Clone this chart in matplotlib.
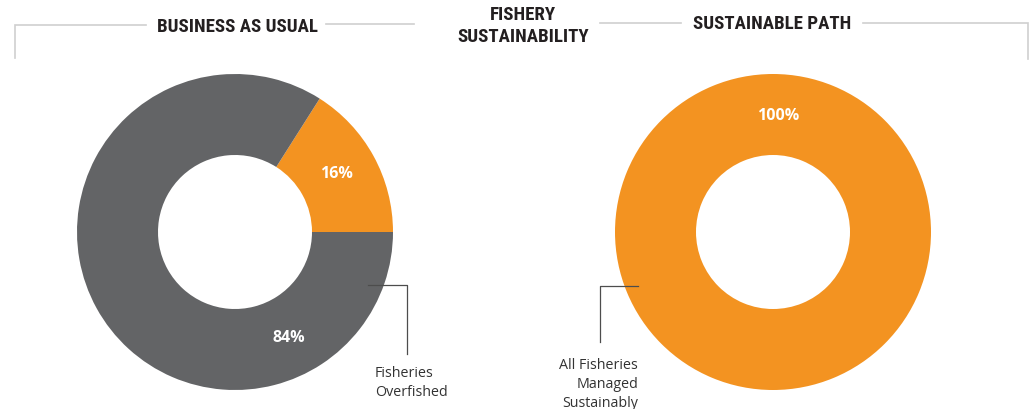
import matplotlib
matplotlib.use("Agg")
import matplotlib.pyplot as plt
import numpy as np

# ---- data ----
panel_titles = ["BUSINESS AS USUAL", "SUSTAINABLE PATH"]
center_title = "FISHERY\nSUSTAINABILITY"
bau_labels = ["Sustainable", "Fisheries Overfished"]
bau_values = [16, 84]
sus_labels = ["All Fisheries Managed Sustainably"]
sus_values = [100]
bau_pct_text = ["16%", "84%"]
sus_pct_text = ["100%"]

ORANGE = "#F39321"
GRAY = "#636466"
LINE = "#cfcfcf"

W, H = 1029, 410
fig = plt.figure(figsize=(W / 100, H / 100), dpi=100)
ax = fig.add_axes([0, 0, 1, 1])

def Y(y):
    return H - y

head_font = ["Roboto Condensed", "Roboto", "DejaVu Sans"]
body_font = ["Open Sans", "DejaVu Sans"]

R_OUT, R_IN = 158, 77
c1 = (235, Y(233))
c2 = (773, Y(233))

ax.pie(bau_values, colors=[ORANGE, GRAY], startangle=0, counterclock=True,
       radius=R_OUT, center=c1, wedgeprops=dict(width=R_OUT - R_IN, linewidth=0),
       frame=True)
ax.pie(sus_values, colors=[ORANGE], startangle=90, counterclock=True,
       radius=R_OUT, center=c2, wedgeprops=dict(width=R_OUT - R_IN, linewidth=0),
       frame=True)
ax.set_xlim(0, W)
ax.set_ylim(0, H)
ax.set_aspect("equal")
ax.axis("off")

# percentage labels
r_lab = (R_OUT + R_IN) / 2
for txt, ang in zip(bau_pct_text, [30, 297]):
    a = np.deg2rad(ang)
    ax.text(c1[0] + r_lab * np.cos(a), c1[1] + r_lab * np.sin(a), txt,
            color="white", fontsize=11.5, fontweight="bold", family=body_font,
            ha="center", va="center")
for txt, ang in zip(sus_pct_text, [87.5]):
    a = np.deg2rad(ang)
    ax.text(c2[0] + r_lab * np.cos(a), c2[1] + r_lab * np.sin(a), txt,
            color="white", fontsize=11.5, fontweight="bold", family=body_font,
            ha="center", va="center")

# header bracket lines
ax.plot([15, 15, 146], [Y(59), Y(26), Y(26)], color=LINE, lw=1.2, solid_joinstyle="miter")
ax.plot([326, 414], [Y(24.5), Y(24.5)], color=LINE, lw=1.2)
ax.plot([600, 681], [Y(23.5), Y(23.5)], color=LINE, lw=1.2)
ax.plot([863, 1028, 1028], [Y(23.5), Y(23.5), Y(60)], color=LINE, lw=1.2, solid_joinstyle="miter")

# header text
ax.text(237, Y(27), panel_titles[0], fontsize=13.6, fontweight="bold", family=head_font,
        color="#231f20", ha="center", va="center")
ax.text(772, Y(24), panel_titles[1], fontsize=13.6, fontweight="bold", family=head_font,
        color="#231f20", ha="center", va="center")
ax.text(523, Y(26), center_title, fontsize=13.6, fontweight="bold", family=head_font,
        color="#231f20", ha="center", va="center", linespacing=1.3)

# callouts
CL = "#4d4d4d"
ax.plot([368, 407, 407], [Y(286), Y(286), Y(355)], color=CL, lw=0.9)
ax.text(375, Y(383), "Fisheries\nOverfished", fontsize=10.3, family=body_font,
        color="#333333", ha="left", va="center", linespacing=1.4)
ax.plot([638, 600, 600], [Y(287), Y(287), Y(343)], color=CL, lw=0.9)
ax.text(638, Y(384.5), "All Fisheries\nManaged\nSustainably", fontsize=10.3, family=body_font,
        color="#333333", ha="right", va="center", linespacing=1.4)

fig.savefig("out.png", dpi=100)
